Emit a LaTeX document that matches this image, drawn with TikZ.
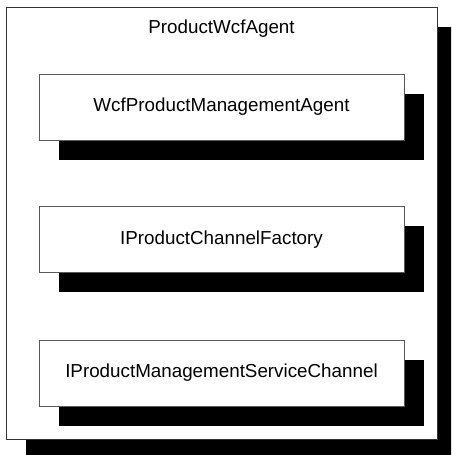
\documentclass[tikz,border=0pt]{standalone}
\usepackage{fontspec}
\setmainfont{Liberation Sans}
\usepackage{tikz}
\usetikzlibrary{shadows}

\tikzset{
    classbox/.style={draw=black!65, line width=0.9pt, fill=white, inner sep=0pt,
        minimum width=365pt, minimum height=66pt,
        font=\fontsize{18.8}{22}\selectfont,
        drop shadow={shadow xshift=19.5pt, shadow yshift=-19.5pt, fill=black, opacity=1}},
    agentbox/.style={classbox, draw=black!80, minimum width=431pt, minimum height=432pt}
}

\begin{document}
\begin{tikzpicture}[x=1pt, y=-1pt]
    % Page frame
    \clip (0,0) rectangle (451,455);

    % Outer component
    \node[agentbox] (agent) at (221.5,223) {};
    \node[font=\fontsize{18.8}{22}\selectfont] (agenttitle) at (221.5,28.5) {ProductWcfAgent};

    % Inner classes
    \node[classbox] (mgmtagent) at (221.5,107) {WcfProductManagementAgent};
    \node[classbox] (factory) at (221.5,239.5) {IProductChannelFactory};
    \node[classbox] (channel) at (221.5,373) {IProductManagementServiceChannel};
\end{tikzpicture}
\end{document}
